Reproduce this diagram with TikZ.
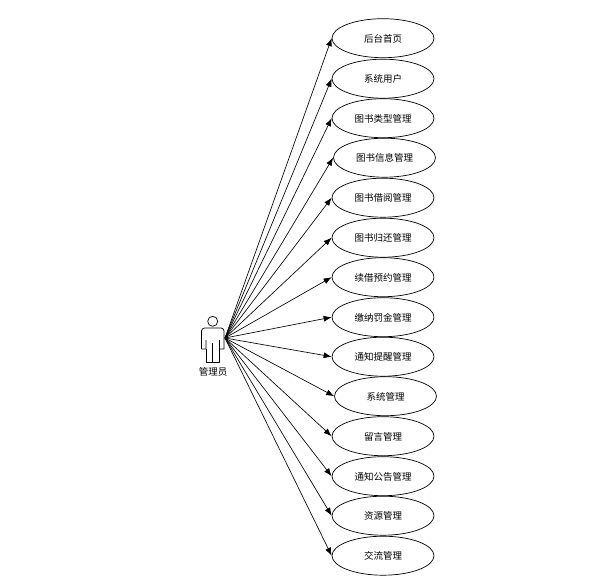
\documentclass[tikz,border=0pt]{standalone}
\usepackage{fontspec}
\setmainfont{Noto Sans CJK SC}
\usetikzlibrary{shapes.geometric,arrows.meta}
\tikzset{
  usecase/.style={draw=black,line width=0.7pt,ellipse,minimum width=102pt,minimum height=39pt,inner sep=0pt,font=\fontsize{9.5}{10}\selectfont,text depth=0pt,yshift=0.3pt},
  link/.style={draw=black,line width=0.65pt,-{Latex[length=8pt,width=6pt]}},
  actorline/.style={draw=black,line width=0.7pt,line join=round},
  actorlabel/.style={font=\fontsize{9.5}{10}\selectfont,inner sep=0pt}
}
\begin{document}
\begin{tikzpicture}[x=1pt,y=-1pt]
\useasboundingbox (0,0) rectangle (605,587);
\fill[white] (0,0) rectangle (605,587);
\node[usecase] (u1) at (383,38.5) {后台首页};
\node[usecase] (u2) at (383,79) {系统用户};
\node[usecase] (u3) at (383,118.5) {图书类型管理};
\node[usecase] (u4) at (384.5,158) {图书信息管理};
\node[usecase] (u5) at (383,198) {图书借阅管理};
\node[usecase] (u6) at (383,238) {图书归还管理};
\node[usecase] (u7) at (383,277.5) {续借预约管理};
\node[usecase] (u8) at (383,317.5) {缴纳罚金管理};
\node[usecase] (u9) at (383,357) {通知提醒管理};
\node[usecase] (u10) at (385.5,396.5) {系统管理};
\node[usecase] (u11) at (383,436.5) {留言管理};
\node[usecase] (u12) at (383,476.5) {通知公告管理};
\node[usecase] (u13) at (383,516) {资源管理};
\node[usecase] (u14) at (383,556) {交流管理};
\coordinate (hub) at (225,338);
\draw[actorline] (212.7,321.3) circle (5);
\draw[actorline] (206,340) -- (206,349) -- (201.5,349) -- (201.5,331) arc (180:270:3) -- (221,328) arc (270:360:3) -- (224,349) -- (219.4,349) -- (219.4,340);
\draw[actorline] (206,349) -- (206,362.7) -- (219.4,362.7) -- (219.4,349);
\draw[actorline] (212.7,343) -- (212.7,362.7);
\node[actorlabel] (actor) at (213,372) {管理员};
\foreach \i in {1,...,14} \draw[link] (hub) -- (u\i.west);
\end{tikzpicture}
\end{document}
